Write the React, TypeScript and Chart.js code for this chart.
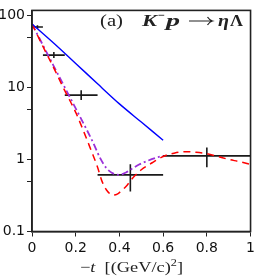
import React, { useEffect, useRef } from 'react';
import { Chart, registerables } from 'chart.js';
Chart.register(...registerables);

const BLUE_T = [0, 0.1, 0.2, 0.3, 0.4, 0.5, 0.6];
const BLUE_V = [76, 41, 21.5, 11.2, 5.9, 3.3, 1.85];

const RED_T = [0, 0.05, 0.1, 0.15, 0.2, 0.24, 0.27, 0.3, 0.32, 0.34, 0.37, 0.39, 0.41, 0.43, 0.46, 0.5, 0.55, 0.6, 0.65, 0.7, 0.75, 0.8, 0.85, 0.9, 0.95, 1.0];
const RED_V = [76, 37, 18.5, 9, 4.5, 2.3, 1.35, 0.78, 0.5, 0.38, 0.32, 0.33, 0.37, 0.42, 0.55, 0.72, 0.9, 1.1, 1.22, 1.28, 1.26, 1.2, 1.1, 1.0, 0.93, 0.85];

const PURPLE_T = [0, 0.1, 0.2, 0.25, 0.28, 0.31, 0.34, 0.37, 0.4, 0.43, 0.46, 0.49, 0.53, 0.57, 0.6];
const PURPLE_V = [76, 19.6, 5.1, 2.6, 1.7, 1.07, 0.76, 0.64, 0.61, 0.66, 0.75, 0.85, 0.96, 1.06, 1.12];

const PT_T = [0.025, 0.1, 0.225, 0.45, 0.8];
const PT_V = [69, 28, 7.8, 0.61, 1.12];
const PT_TLO = [0, 0.05, 0.15, 0.3, 0.6];
const PT_THI = [0.05, 0.15, 0.3, 0.6, 1.0];
const PT_VLO = [65, 25.5, 6.7, 0.36, 0.78];
const PT_VHI = [73, 31, 9.1, 0.86, 1.46];

const X_TICKS = [0, 0.2, 0.4, 0.6, 0.8, 1];
const Y_TICKS = [0.1, 0.5, 1, 5, 10, 50, 100];
const Y_LABELED = [0.1, 1, 10, 100];

const toXY = (ts: number[], vs: number[]) => ts.map((t, i) => ({ x: t, y: vs[i] }));

const SERIF = '"Liberation Serif"';

const decorPlugin = {
  id: 'decor',
  beforeDatasetsDraw(chart: any) {
    const { ctx, scales } = chart;
    const xs = scales.x, ys = scales.y;
    ctx.save();
    ctx.strokeStyle = '#1a1a1a';
    ctx.lineWidth = 1.6;
    for (let i = 0; i < PT_T.length; i++) {
      const px = xs.getPixelForValue(PT_T[i]);
      const py = ys.getPixelForValue(PT_V[i]);
      ctx.beginPath();
      ctx.moveTo(xs.getPixelForValue(PT_TLO[i]), py);
      ctx.lineTo(xs.getPixelForValue(PT_THI[i]), py);
      ctx.moveTo(px, ys.getPixelForValue(PT_VLO[i]));
      ctx.lineTo(px, ys.getPixelForValue(PT_VHI[i]));
      ctx.stroke();
    }
    ctx.restore();
  },
  afterDraw(chart: any) {
    const { ctx, chartArea } = chart;
    ctx.save();
    ctx.strokeStyle = '#222';
    ctx.lineWidth = 1.6;
    ctx.strokeRect(chartArea.left, chartArea.top, chartArea.right - chartArea.left, chartArea.bottom - chartArea.top);

    ctx.fillStyle = '#222';
    ctx.strokeStyle = '#222';
    ctx.textBaseline = 'alphabetic';

    const drawParts = (parts: [string, string, number][], left: number, base: number, targetW: number) => {
      let w = 0;
      for (const p of parts) { ctx.font = p[1]; w += ctx.measureText(p[0]).width; }
      const k = targetW / w;
      ctx.save();
      ctx.translate(left, base);
      ctx.scale(k, 1);
      let x = 0;
      for (const p of parts) {
        ctx.font = p[1];
        ctx.fillText(p[0], x, p[2]);
        x += ctx.measureText(p[0]).width;
      }
      ctx.restore();
    };

    const base = 26;
    drawParts([['(a)', `17px ${SERIF}`, 0]], 100, base, 23);

    const bi = `bold italic 17px ${SERIF}`;
    drawParts([['K', bi, 0]], 142, base, 15);
    drawParts([['\u2212', `bold 12px ${SERIF}`, -7]], 158, base, 7);
    drawParts([['p', bi, 0]], 166, base, 14);
    const ay = base - 5;
    ctx.lineWidth = 1.2;
    ctx.beginPath();
    ctx.moveTo(189, ay);
    ctx.lineTo(212, ay);
    ctx.moveTo(207.5, ay - 4);
    ctx.quadraticCurveTo(209.5, ay - 0.8, 212.5, ay);
    ctx.quadraticCurveTo(209.5, ay + 0.8, 207.5, ay + 4);
    ctx.stroke();
    drawParts([['\u03b7', bi, 0]], 218, base, 11);
    drawParts([['\u039b', `bold 17px ${SERIF}`, 0]], 230, base, 13);

    drawParts([
      ['\u2212', `15px ${SERIF}`, 0],
      ['t', `italic 15px ${SERIF}`, 0],
      ['  [(GeV/c)', `15px ${SERIF}`, 0],
      ['2', `10px ${SERIF}`, -6],
      [']', `15px ${SERIF}`, 0],
    ], 80, 272, 103);
    ctx.restore();
  },
};

export default function App() {
  const ref = useRef<HTMLCanvasElement>(null);
  useEffect(() => {
    if (!ref.current) return;
    const chart = new Chart(ref.current, {
      type: 'line',
      data: {
        datasets: [
          {
            data: toXY(BLUE_T, BLUE_V),
            borderColor: '#0000ff',
            borderWidth: 1.4,
            pointRadius: 0,
            tension: 0.3,
          },
          {
            data: toXY(RED_T, RED_V),
            borderColor: '#ff0000',
            borderWidth: 1.5,
            borderDash: [7, 5],
            pointRadius: 0,
            cubicInterpolationMode: 'monotone',
          },
          {
            data: toXY(PURPLE_T, PURPLE_V),
            borderColor: '#9b30d9',
            borderWidth: 1.8,
            borderDash: [7, 3, 2, 3],
            pointRadius: 0,
            cubicInterpolationMode: 'monotone',
          },
        ],
      },
      options: {
        responsive: false,
        animation: false,
        layout: { padding: { left: 0, right: 2, top: 1, bottom: 0 } },
        plugins: { legend: { display: false }, tooltip: { enabled: false } },
        scales: {
          x: {
            type: 'linear',
            min: 0,
            max: 1,
            afterBuildTicks: (s: any) => { s.ticks = X_TICKS.map((v) => ({ value: v })); },
            afterFit: (s: any) => { s.height = 44.5; },
            grid: { drawOnChartArea: false, drawTicks: true, tickLength: 5, color: '#222' },
            border: { color: '#222', width: 1.6 },
            ticks: {
              color: '#111',
              font: { family: 'DejaVu Sans', size: 14 },
              padding: 3,
              maxRotation: 0,
              callback: (v: any) => String(v),
            },
          },
          y: {
            type: 'logarithmic',
            min: 0.1,
            max: 117,
            afterBuildTicks: (s: any) => { s.ticks = Y_TICKS.map((v) => ({ value: v })); },
            afterFit: (s: any) => { s.width = 32; },
            grid: { drawOnChartArea: false, drawTicks: true, tickLength: 5, color: '#222' },
            border: { color: '#222', width: 1.6 },
            ticks: {
              color: '#111',
              font: { family: 'DejaVu Sans', size: 14 },
              padding: 2,
              callback: (v: any) => (Y_LABELED.includes(Number(v)) ? String(v) : ''),
            },
          },
        },
      },
      plugins: [decorPlugin],
    } as any);
    return () => chart.destroy();
  }, []);
  return (
    <div style={{ position: 'fixed', left: 0, top: 0, width: 258, height: 276 }}>
      <canvas ref={ref} width={258} height={276} />
    </div>
  );
}
